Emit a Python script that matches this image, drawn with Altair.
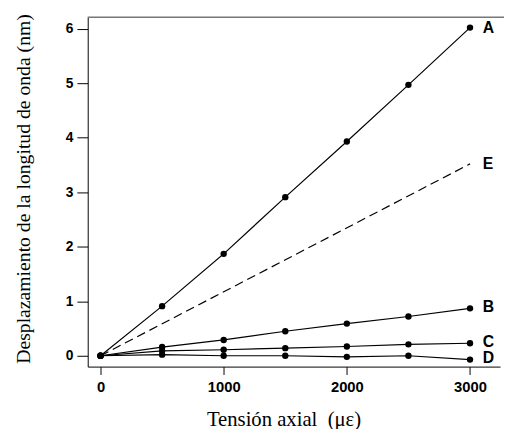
import altair as alt
import pandas as pd

strain = [0, 500, 1000, 1500, 2000, 2500, 3000]
series_A = [0, 0.91, 1.87, 2.91, 3.93, 4.97, 6.02]
series_B = [0, 0.16, 0.29, 0.45, 0.59, 0.72, 0.87]
series_C = [0, 0.09, 0.11, 0.14, 0.17, 0.21, 0.23]
series_D = [0, 0.02, 0.0, 0.0, -0.02, 0.0, -0.07]
strain_E = [0, 3000]
series_E = [0, 3.52]

label_names = ["A", "E", "B", "C", "D"]
label_y = [6.02, 3.52, 0.9, 0.25, -0.05]

x_ticks = [0, 1000, 2000, 3000]
y_ticks = [0, 1, 2, 3, 4, 5, 6]

rows = []
for name, vals in [("A", series_A), ("B", series_B), ("C", series_C), ("D", series_D)]:
    for s, v in zip(strain, vals):
        rows.append({"strain": s, "shift": v, "serie": name})
solid = pd.DataFrame(rows)
dashed = pd.DataFrame({"strain": strain_E, "shift": series_E, "serie": "E"})
labels = pd.DataFrame({"strain": [3000] * len(label_names), "shift": label_y, "name": label_names})

xscale = alt.Scale(domain=[-104, 3244], nice=False, zero=False)
yscale = alt.Scale(domain=[-0.199, 6.21], nice=False, zero=False)

xenc = alt.X("strain:Q", scale=xscale, axis=alt.Axis(
    values=x_ticks, title="Tensión axial\u00a0\u00a0(με)", grid=False, format="d",
    domainColor="black", tickColor="black", tickSize=8, labelPadding=5,
    labelFont="Liberation Sans", labelFontSize=15, labelFontWeight="bold", labelColor="black",
    titleFont="Liberation Serif", titleFontSize=21, titleFontWeight="normal", titleColor="black",
    titleX=199, titleY=43, titleBaseline="top"))
yenc = alt.Y("shift:Q", scale=yscale, axis=alt.Axis(
    values=y_ticks, title="Desplazamiento de la longitud de onda (nm)", grid=False,
    domainColor="black", tickColor="black", tickSize=11, labelPadding=4,
    labelFont="Liberation Sans", labelFontSize=14, labelFontWeight="bold", labelColor="black",
    titleFont="Liberation Serif", titleFontSize=20, titleFontWeight="normal", titleColor="black",
    titleX=-55, titleY=174, titleBaseline="bottom"))

lines = alt.Chart(solid).mark_line(color="black", strokeWidth=1.2).encode(
    x=xenc, y=yenc, detail="serie:N")
points = alt.Chart(solid).mark_circle(color="black", size=42, opacity=1).encode(
    x="strain:Q", y="shift:Q")
eline = alt.Chart(dashed).mark_line(color="black", strokeWidth=1.2, strokeDash=[9, 5]).encode(
    x="strain:Q", y="shift:Q")
text = alt.Chart(labels).mark_text(align="left", baseline="middle", dx=13,
                                   font="Liberation Sans", fontSize=16, fontWeight="bold",
                                   color="black").encode(
    x="strain:Q", y="shift:Q", text="name:N")
top = alt.Chart(pd.DataFrame({"v": [0]})).mark_rule(color="#777777", strokeWidth=1.5).encode(
    x=alt.value(0), x2=alt.value(423), y=alt.value(0))

chart = alt.layer(top, eline, lines, points, text).properties(
    width=419, height=355,
    autosize=alt.AutoSizeParams(type="none"),
    padding={"left": 81, "top": 6, "right": 4, "bottom": 60},
    background="white",
).configure_view(stroke=None)

chart.save("out.html", embed_options={"renderer": "svg", "actions": False})
